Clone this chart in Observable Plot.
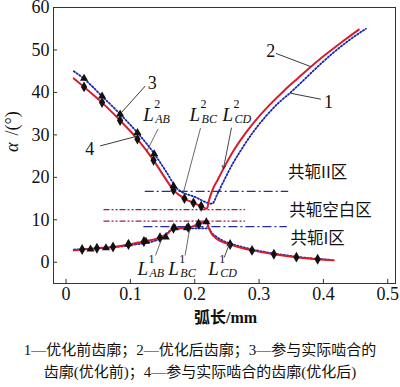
<!DOCTYPE html>
<html><head><meta charset="utf-8">
<script src="https://cdn.jsdelivr.net/npm/d3@7"></script>
<script src="https://cdn.jsdelivr.net/npm/@observablehq/plot@0.6"></script>
<style>
body{margin:0;background:#fff}
#cap{width:400px;text-align:center;font:15px/22px "Liberation Serif","Noto Sans CJK SC",serif;margin-top:7px;color:#111}
</style>
</head><body><div id="chart"></div>
<div id="cap">1—优化前齿廓；2—优化后齿廓；3—参与实际啮合的<br>齿廓(优化前)；4—参与实际啮合的齿廓(优化后)</div>
<script>
// axis ticks
const xTicks = [0, 0.1, 0.2, 0.3, 0.4, 0.5];
const xTickLabels = ["0", "0.1", "0.2", "0.3", "0.4", "0.5"];
const yTicks = [0, 10, 20, 30, 40, 50, 60];

// curve 2 (after optimization, red solid) upper branch
const red2UpX = [0.012,0.028,0.056,0.084,0.111,0.136,0.152,0.167,0.184,0.198,0.210,0.219,0.222,0.227,0.236,0.248,0.260,0.277,0.294,0.316,0.338,0.360,0.380,0.398,0.416,0.436,0.455];
const red2UpY = [43.3,41.3,37.6,33.4,29.0,24.0,20.3,17.0,15.0,14.0,13.2,12.6,14.5,16.8,19.5,23.0,26.2,30.0,33.3,37.0,40.3,43.3,46.0,48.3,50.4,52.7,54.8];
// curve 2 lower branch
const red2LoX = [0.012,0.025,0.048,0.073,0.097,0.121,0.146,0.158,0.167,0.190,0.206,0.218,0.222,0.226,0.232,0.243,0.255,0.272,0.289,0.323,0.358,0.391,0.416];
const red2LoY = [2.8,3.0,3.3,3.6,4.2,4.9,5.8,6.8,8.0,8.2,9.0,9.6,8.0,6.8,5.8,4.8,4.2,3.4,2.8,1.9,1.2,0.7,0.5];
// curve 1 (before optimization, blue dotted) upper branch
const blue1UpX = [0.012,0.028,0.056,0.084,0.111,0.136,0.155,0.173,0.200,0.227,0.235,0.243,0.259,0.271,0.290,0.310,0.330,0.349,0.370,0.392,0.415,0.440,0.466];
const blue1UpY = [45.0,43.2,39.1,34.9,30.5,25.8,21.5,17.3,15.4,13.8,16.0,18.5,23.2,26.2,30.5,34.3,37.5,40.0,43.0,46.2,49.3,52.3,55.0];
// curve 1 lower branch
const blue1LoX = [0.012,0.050,0.100,0.146,0.167,0.190,0.222,0.226,0.232,0.245,0.260,0.290,0.330,0.370,0.410];
const blue1LoY = [3.0,3.3,4.0,5.5,7.8,8.0,8.0,7.0,6.2,5.0,4.2,3.0,1.9,1.1,0.6];

// curve 4 markers (diamonds)
const diaX = [0.028,0.056,0.084,0.111,0.136,0.167,0.184,0.198,0.210,0.025,0.048,0.073,0.097,0.121,0.146,0.167,0.190,0.206,0.255,0.289,0.323,0.358,0.391];
const diaY = [41.3,37.6,33.4,29.0,24.0,17.0,15.0,14.0,13.2,3.0,3.3,3.6,4.2,4.9,5.8,8.0,8.2,9.0,4.2,2.8,1.9,1.2,0.7];
// curve 3 markers (triangles)
const triX = [0.028,0.056,0.084,0.111,0.137,0.167,0.038,0.062,0.097,0.124,0.155,0.169,0.188,0.218];
const triY = [43.3,39.1,34.9,30.5,25.5,18.0,3.1,3.4,4.3,4.9,5.9,8.1,8.1,9.5];

// zone boundary lines
const blueZoneY = [16.7, 8.4];
const blueZoneX1 = [0.123, 0.121];
const blueZoneX2 = [0.346, 0.344];
const redZoneY = [12.4, 9.7];
const redZoneX1 = [0.059, 0.059];
const redZoneX2 = [0.279, 0.279];

// zone labels
const zoneText = ["共轭II区", "共轭空白区", "共轭I区"];
const zoneX = [0.391, 0.411, 0.391];
const zoneY = [21.1, 12.2, 5.6];

// curve number labels and leaders
const numText = ["3", "4", "2", "1"];
const numX = [0.134, 0.037, 0.318, 0.408];
const numY = [42.2, 26.7, 49.6, 37.7];
const numLeadX1 = [0.123, 0.053, 0.326, 0.396];
const numLeadY1 = [41.5, 27.4, 49.2, 38.4];
const numLeadX2 = [0.084, 0.108, 0.380, 0.349];
const numLeadY2 = [34.9, 29.6, 46.1, 39.8];

// L labels
const LSup = ["2", "2", "2", "1", "1", "1"];
const LSub = ["AB", "BC", "CD", "AB", "BC", "CD"];
const LX = [0.120, 0.192, 0.243, 0.111, 0.159, 0.221];
const LY = [33.3, 33.3, 33.3, -3.0, -3.0, -3.0];
const LLeadX1 = [0.143, 0.209, 0.257, 0.139, 0.185, 0.246];
const LLeadY1 = [31.4, 31.6, 31.6, 1.6, 1.6, 1.2];
const LLeadX2 = [0.125, 0.182, 0.2445, 0.148, 0.192, 0.254];
const LLeadY2 = [26.0, 16.2, 22.0, 5.2, 7.7, 4.4];
const LArrow = [false, false, true, false, false, true];

const rows = (xs, ys) => xs.map((x, i) => ({x, y: ys[i]}));
const serif = "Liberation Serif";
const cjk = "Noto Sans CJK SC";
const Lrows = LX.map((x, i) => ({x, y: LY[i], sup: LSup[i], sub: LSub[i]}));
const Llinks = LX.map((_, i) => ({x1: LLeadX1[i], y1: LLeadY1[i], x2: LLeadX2[i], y2: LLeadY2[i], arrow: LArrow[i]}));
const numRows = numText.map((t, i) => ({t, x: numX[i], y: numY[i], x1: numLeadX1[i], y1: numLeadY1[i], x2: numLeadX2[i], y2: numLeadY2[i]}));

const chart = Plot.plot({
  width: 400, height: 332,
  marginLeft: 53, marginRight: 5, marginTop: 7, marginBottom: 49,
  x: {domain: [-0.0195, 0.512]},
  y: {domain: [-5, 60]},
  style: {fontFamily: serif, background: "#fff", color: "#111"},
  marks: [
    Plot.ruleY(blueZoneY, {y: d => d, x1: (d, i) => blueZoneX1[i], x2: (d, i) => blueZoneX2[i], stroke: "#2a2a9a", strokeWidth: 1.3, strokeDasharray: "9,3,2,3"}),
    Plot.ruleY(redZoneY, {y: d => d, x1: (d, i) => redZoneX1[i], x2: (d, i) => redZoneX2[i], stroke: "#9a2038", strokeWidth: 1.2, strokeDasharray: "6,2,2,2,2,2"}),
    Plot.line(rows(blue1UpX, blue1UpY), {x: "x", y: "y", curve: "monotone-x", stroke: "#1a24b4", strokeWidth: 1.8, strokeDasharray: "1.4,2"}),
    Plot.line(rows(blue1LoX, blue1LoY), {x: "x", y: "y", curve: "monotone-x", stroke: "#1a24b4", strokeWidth: 1.8, strokeDasharray: "1.4,2"}),
    Plot.line(rows(red2UpX, red2UpY), {x: "x", y: "y", curve: "monotone-x", stroke: "#d61e2a", strokeWidth: 2}),
    Plot.line(rows(red2LoX, red2LoY), {x: "x", y: "y", curve: "monotone-x", stroke: "#d61e2a", strokeWidth: 2}),
    Plot.dot(rows(triX, triY), {x: "x", y: "y", symbol: "triangle", r: 3, fill: "#111", stroke: "none"}),
    Plot.dot(rows(diaX, diaY), {x: "x", y: "y", symbol: "diamond", r: 3.3, fill: "#111", stroke: "none"}),
    Plot.link(numRows, {x1: "x1", y1: "y1", x2: "x2", y2: "y2", stroke: "#222", strokeWidth: 0.9}),
    Plot.link(Llinks.filter(d => !d.arrow), {x1: "x1", y1: "y1", x2: "x2", y2: "y2", stroke: "#444", strokeWidth: 0.8}),
    Plot.arrow(Llinks.filter(d => d.arrow), {x1: "x1", y1: "y1", x2: "x2", y2: "y2", stroke: "#333", strokeWidth: 0.9, headLength: 6}),
    Plot.text(numRows, {x: "x", y: "y", text: "t", fontSize: 18, fontFamily: serif, fill: "#111"}),
    Plot.text(Lrows, {x: "x", y: "y", text: () => "L", fontSize: 19, fontStyle: "italic", fontFamily: serif, textAnchor: "start", lineAnchor: "bottom", fill: "#111"}),
    Plot.text(Lrows, {x: "x", y: "y", text: "sup", dx: 11, dy: -12.5, fontSize: 12, fontFamily: serif, textAnchor: "start", lineAnchor: "bottom", fill: "#111"}),
    Plot.text(Lrows, {x: "x", y: "y", text: "sub", dx: 12, dy: 2, fontSize: 12, fontStyle: "italic", fontFamily: serif, textAnchor: "start", lineAnchor: "bottom", fill: "#111"}),
    Plot.text(zoneText, {x: (d, i) => zoneX[i], y: (d, i) => zoneY[i], text: d => d, fontSize: 16.5, fontFamily: cjk, fill: "#111"}),
    Plot.ruleX(xTicks, {x: d => d, y1: -5, y2: -4.05, stroke: "#333"}),
    Plot.ruleY(yTicks, {y: d => d, x1: -0.0195, x2: -0.0133, stroke: "#333"}),
    Plot.axisX({ticks: xTicks, tickSize: 0, tickPadding: 4, fontSize: 18, fontFamily: serif, tickFormat: d => xTickLabels[xTicks.indexOf(d)], label: null}),
    Plot.axisY({ticks: yTicks, tickSize: 0, tickPadding: 4, fontSize: 18, fontFamily: serif, label: null}),
    Plot.text(["α"], {text: d => d, frameAnchor: "left", dx: -41, dy: 6.5, rotate: -90, fontSize: 18, fontStyle: "italic", fontFamily: serif, fill: "#111"}),
    Plot.text(["/(°)"], {text: d => d, frameAnchor: "left", dx: -41, dy: -10, rotate: -90, fontSize: 18, fontFamily: serif, fill: "#111"}),
    Plot.text(["弧长/mm"], {text: d => d, frameAnchor: "bottom", dy: 39, dx: 1, fontSize: 16, fontWeight: "bold", fontFamily: serif + ", " + cjk, fill: "#111"}),
    Plot.frame({stroke: "#333", strokeWidth: 1})
  ]
});
document.getElementById("chart").appendChild(chart);
</script></body></html>
